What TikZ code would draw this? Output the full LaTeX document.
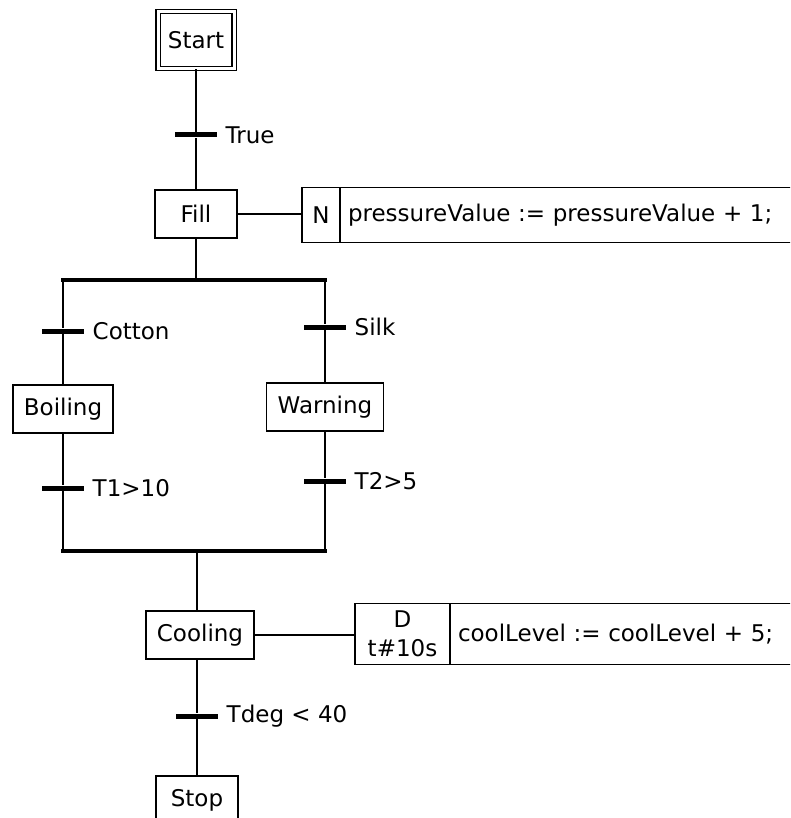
\documentclass[tikz,border=0pt]{standalone}
\usepackage{fontspec}
\setmainfont{DejaVu Sans}
\usetikzlibrary{positioning}
\tikzset{
    every node/.style = {font=\fontsize{23}{29}\selectfont},
    stepbox/.style = {draw, line width=1.4pt, minimum width=82, minimum height=48, inner xsep=11},
    initbox/.style = {draw, double, double distance=3pt, line width=1.2pt, minimum width=76, minimum height=57},
    trans/.style = {fill=black, rectangle, minimum width=42, minimum height=5, inner sep=0pt},
    tlabel/.style = {label distance=4pt},
    qualbox/.style = {draw, line width=1.4pt, inner sep=0pt, outer sep=0pt, anchor=west},
    actbox/.style = {draw, line width=1.4pt, inner xsep=8pt, outer sep=0pt, align=left},
    par/.style = {line width=3.5pt, line cap=rect}
}

\begin{document}
\begin{tikzpicture}[x=1pt, y=-1pt, line width=1.4pt]
    \useasboundingbox (0,0) rectangle (790,818);
    \clip (0,0) rectangle (790,818);

    % initial step and fill
    \node[initbox] (start) at (196,40) {Start};
    \node[trans, label={[tlabel]right:True}] (ttrue) at (196,135) {};
    \node[stepbox] (fill) at (196,214) {Fill};
    \node[qualbox, minimum width=38, minimum height=55] (fillq) at (302,215) {N};
    \node[actbox, text width=470, minimum height=55, right=0pt of fillq] (filla)
        {pressureValue := pressureValue + 1;};
    \draw (start) -- (ttrue) -- (fill);
    \draw (fill.east) -- (fill.east -| fillq.west);

    % divergence
    \coordinate (divl) at (63,280);
    \coordinate (divr) at (325,280);
    \draw[par] (divl) -- (divr);
    \draw (fill) -- (fill |- divl);

    % left branch
    \node[trans, label={[tlabel]right:Cotton}] (tcotton) at (63,331) {};
    \node[stepbox] (boiling) at (63,409) {Boiling};
    \node[trans, label={[tlabel]right:T1>10}] (tone) at (63,488) {};

    % right branch
    \node[trans, label={[tlabel]right:Silk}] (tsilk) at (325,327) {};
    \node[stepbox] (warning) at (325,407) {Warning};
    \node[trans, label={[tlabel]right:T2>5}] (ttwo) at (325,481) {};

    % convergence
    \coordinate (convl) at (63,551);
    \coordinate (convr) at (325,551);
    \coordinate (conv) at (197,551);
    \draw[par] (convl) -- (convr);
    \draw (divl) -- (tcotton) -- (boiling) -- (tone) -- (convl);
    \draw (divr) -- (tsilk) -- (warning) -- (ttwo) -- (convr);

    % cooling and stop
    \node[stepbox] (cooling) at (200,635) {Cooling};
    \node[qualbox, align=center, minimum width=95, minimum height=61] (coolq) at (355,634) {D\\t\#10s};
    \node[actbox, text width=420, minimum height=61, right=0pt of coolq] (coola)
        {coolLevel := coolLevel + 5;};
    \node[trans, label={[tlabel]right:Tdeg < 40}] (tdeg) at (197,716) {};
    \node[stepbox] (stop) at (197,800) {Stop};
    \draw (conv) -- (conv |- cooling.north);
    \draw (cooling.east) -- (cooling.east -| coolq.west);
    \draw (cooling.south -| tdeg) -- (tdeg) -- (stop);
\end{tikzpicture}
\end{document}
